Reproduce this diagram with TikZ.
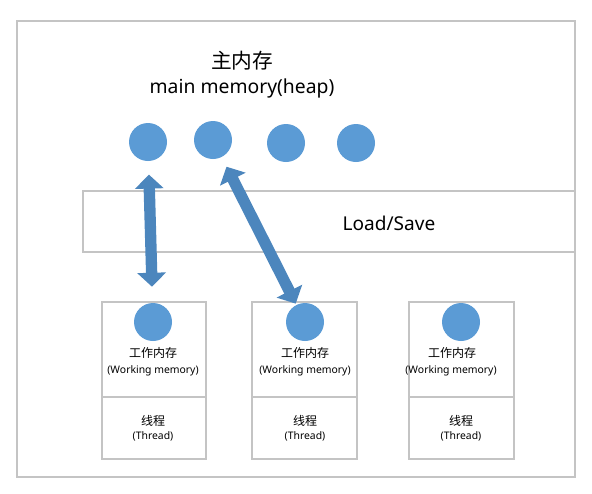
\documentclass[tikz,border=0pt]{standalone}
\usepackage{fontspec}
\setmainfont{Noto Sans}
\newfontfamily\cjk{Noto Sans CJK SC}
\usetikzlibrary{arrows.meta,positioning}

\definecolor{ballblue}{HTML}{5B9BD5}
\definecolor{arrowblue}{HTML}{4C86BD}
\definecolor{framegray}{HTML}{C4C4C4}

\tikzset{
  ball/.style={circle, fill=ballblue, inner sep=0pt, minimum size=28.5pt},
  frame/.style={draw=framegray, line width=0.8pt},
  bigarrow/.style={arrowblue, line width=8.5pt,
    {Triangle[width=21pt,length=10.5pt]}-{Triangle[width=21pt,length=10.5pt]}},
  small/.style={font=\fontsize{7.8}{9}\selectfont, inner sep=0pt},
  smallcjk/.style={font=\cjk\fontsize{9}{10}\selectfont, inner sep=0pt},
}

\begin{document}
\begin{tikzpicture}[x=0.75pt,y=-0.75pt]
  \useasboundingbox (0,0) rectangle (592,493);

  % frames
  \draw[frame] (17,21) rectangle (575,477);
  \draw[frame] (83,191) rectangle (575,252);
  \draw[frame] (102,302) rectangle (206,397);
  \draw[frame] (102,397) rectangle (206,459);
  \draw[frame] (252,302) rectangle (357,397);
  \draw[frame] (252,397) rectangle (357,459);
  \draw[frame] (409,302) rectangle (514,397);
  \draw[frame] (409,397) rectangle (514,459);

  % main memory
  \node[font=\cjk\fontsize{15.5}{16}\selectfont, inner sep=0pt] (title) at (242,61) {主内存};
  \node[font=\fontsize{14.5}{16}\selectfont, inner sep=0pt] (heap) at (242,88) {main memory(heap)};
  \node[font=\fontsize{14.3}{16}\selectfont, inner sep=0pt] (ls) at (389,223) {Load/Save};

  \node[ball] (h1) at (148,142) {};
  \node[ball] (h2) at (213,140) {};
  \node[ball] (h3) at (286,143) {};
  \node[ball] (h4) at (356,143) {};

  % working memory of each thread
  \node[ball] (w1) at (153,322) {};
  \node[ball] (w2) at (305,322) {};
  \node[ball] (w3) at (461,322) {};

  \node[smallcjk] (wm1) at (153,353) {工作内存};
  \node[small] (wme1) at (153,371) {(Working memory)};
  \node[smallcjk] (t1) at (153,421) {线程};
  \node[small] (te1) at (153,436) {(Thread)};

  \node[smallcjk] (wm2) at (305,353) {工作内存};
  \node[small] (wme2) at (305,371) {(Working memory)};
  \node[smallcjk] (t2) at (305,421) {线程};
  \node[small] (te2) at (305,436) {(Thread)};

  \node[smallcjk] (wm3) at (452,353) {工作内存};
  \node[small] (wme3) at (451,371) {(Working memory)};
  \node[smallcjk] (t3) at (461,421) {线程};
  \node[small] (te3) at (461,436) {(Thread)};

  \draw[bigarrow, shorten <=10pt, shorten >=12pt] (h1) -- (w1);
  \draw[bigarrow, shorten <=8pt, shorten >=1pt] (h2) -- (w2);
\end{tikzpicture}
\end{document}
